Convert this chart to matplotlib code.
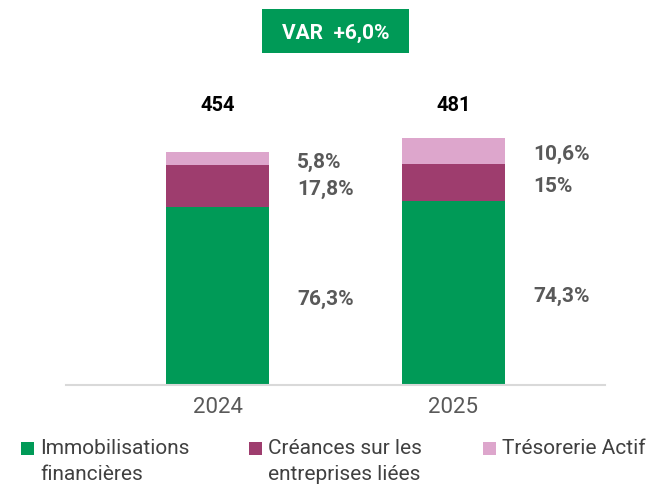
import matplotlib
matplotlib.use("Agg")
import matplotlib.pyplot as plt
from matplotlib.patches import Rectangle

plt.rcParams['font.family'] = ['Roboto', 'DejaVu Sans']

# === Données
years = ["2024", "2025"]
totals = [454, 481]
categories = ["Immobilisations\nfinancières", "Créances sur les\nentreprises liées", "Trésorerie Actif"]
pct_immo = [76.3, 74.3]
pct_creances = [17.8, 15.0]
pct_treso = [5.8, 10.6]
pct_labels_immo = ["76,3%", "74,3%"]
pct_labels_creances = ["17,8%", "15%"]
pct_labels_treso = ["5,8%", "10,6%"]
var_label = "VAR  +6,0%"

colors = ["#009a57", "#9e3d6e", "#dda6cc"]

fig = plt.figure(figsize=(6.49, 4.89), dpi=100)
W, H = 649, 489
ax = fig.add_axes([66 / W, (H - 385.5) / H, 539 / W, 300 / H])

x = range(len(years))
series = [pct_immo, pct_creances, pct_treso]
labels = [pct_labels_immo, pct_labels_creances, pct_labels_treso]
bar_w = 0.436
bottoms = [0.0, 0.0]
for vals, labs, col in zip(series, labels, colors):
    heights = [t * p / 100 for t, p in zip(totals, vals)]
    ax.bar(x, heights, width=bar_w, bottom=bottoms, color=col, zorder=2)
    for i in x:
        ax.text(i + 0.338, bottoms[i] + heights[i] / 2 - 5, labs[i], ha="left", va="center",
                fontsize=15, fontweight="bold", color="#595959")
    bottoms = [b + h for b, h in zip(bottoms, heights)]

# totaux au-dessus
for i in x:
    ax.text(i, 546, str(totals[i]), ha="center", va="center", fontsize=14.5,
            fontweight="bold", color="black")

ax.set_xlim(-0.642, 1.642)
ax.set_ylim(0, 300 / 0.513)
ax.set_xticks(list(x))
ax.set_xticklabels(years, fontsize=16, color="#595959")
ax.tick_params(axis="x", length=0, pad=8)
ax.set_yticks([])
for s in ["top", "right", "left"]:
    ax.spines[s].set_visible(False)
ax.spines["bottom"].set_color("#d9d9d9")
ax.spines["bottom"].set_linewidth(1.5)

# boîte VAR
fig.patches.append(Rectangle((262 / W, 1 - 54 / H), 147 / W, 44 / H, transform=fig.transFigure,
                             facecolor="#009a57", edgecolor="none"))
fig.text(335.5 / W, 1 - 33 / H, var_label, ha="center", va="center", fontsize=15,
         fontweight="bold", color="white")

# légende
leg_x = [21, 249, 483]
for lx, lab, col in zip(leg_x, categories, colors):
    fig.patches.append(Rectangle((lx / W, 1 - 456 / H), 13 / W, 13 / H,
                                 transform=fig.transFigure, facecolor=col, edgecolor="none"))
    fig.text((lx + 19) / W, 1 - 439 / H, lab, ha="left", va="top", fontsize=15,
             color="#404040", linespacing=1.45)

fig.savefig("out.png", dpi=100)
